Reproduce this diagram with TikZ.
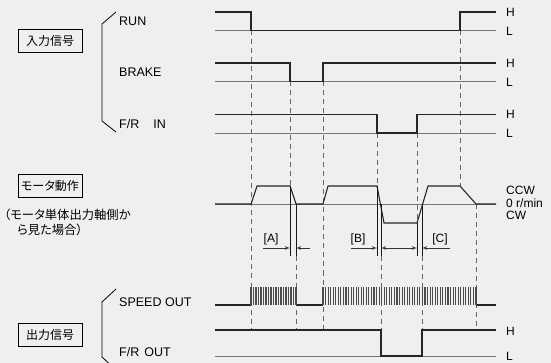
\documentclass[tikz,border=0pt]{standalone}
\usepackage{fontspec}
\setmainfont{Liberation Sans}
\newfontfamily\jpfont[RawFeature=+palt]{Noto Sans CJK JP}
\usepackage{tikz}
\usetikzlibrary{arrows,positioning}
\definecolor{bggray}{RGB}{238,239,238}
\definecolor{refgray}{RGB}{120,120,120}
\tikzset{
    sig/.style={draw, black!85, line width=1.1pt},
    ref/.style={draw, refgray, line width=0.7pt},
    guide/.style={draw, black!60, line width=0.9pt, dash pattern=on 5pt off 4pt},
    marker/.style={draw, black!90, line width=0.8pt},
    pulse/.style={draw, black!70, line width=1.1pt},
    dimline/.style={draw, black!80, line width=0.7pt, -latex'},
    box/.style={rectangle, draw, line width=0.8pt, minimum width=64pt, minimum height=23pt, inner sep=0pt, font=\jpfont\fontsize{12}{14}\selectfont},
    note/.style={anchor=west, inner sep=0pt, font=\jpfont\fontsize{12.3}{14}\selectfont},
    lbl/.style={anchor=base west, inner sep=0pt, font=\fontsize{12.5}{14}\selectfont},
    lvl/.style={anchor=base west, inner sep=0pt, font=\fontsize{12}{14}\selectfont}
}

\begin{document}
\begin{tikzpicture}[x=1pt, y=-1pt]
    \useasboundingbox (0,0) rectangle (551,363);
    \fill[bggray] (0,0) rectangle (551,363);

    % left side
    \node[box] (inbox) at (50,40.5) {入力信号};
    \node[box] (motbox) at (50,185.5) {モータ動作};
    \node[box] (outbox) at (50,335) {出力信号};
    \node[note] (view1) at (4,215) {（モータ単体出力軸側か};
    \node[note] (view2) at (17,230) {ら見た場合）};

    \draw[line width=0.8pt] (116,12) -- (102,24) -- (102,121) -- (116,132);
    \draw[line width=0.8pt] (116,289) -- (102,302) -- (102,357) -- (108.5,363);

    \node[lbl] (run) at (119,25.7) {RUN};
    \node[lbl] (brake) at (119,76.7) {BRAKE};
    \node[lbl] (frin) at (119,129) {F/R\hspace{14pt}IN};
    \node[lbl] (speed) at (119,306.7) {SPEED OUT};
    \node[lbl] (frout) at (119,356.7) {F/R\hspace{5pt}OUT};

    % levels
    \node[lvl] (runh) at (506,16.7) {H};
    \node[lvl] (runl) at (506,36) {L};
    \node[lvl] (brkh) at (506,67.7) {H};
    \node[lvl] (brkl) at (506,86.5) {L};
    \node[lvl] (frinh) at (506,119) {H};
    \node[lvl] (frinl) at (506,138) {L};
    \node[lvl] (ccw) at (506,195) {CCW};
    \node[lvl] (zero) at (506,207.7) {0 r/min};
    \node[lvl] (cw) at (506,219.7) {CW};
    \node[lvl] (frouth) at (506,335) {H};
    \node[lvl] (froutl) at (506,360.5) {L};

    % reference lines
    \draw[ref] (215,30.5) -- (496,30.5);
    \draw[ref] (215,81.5) -- (496,81.5);
    \draw[ref] (215,133) -- (496,133);
    \draw[ref] (215,204) -- (496,204);
    \draw[ref] (215,356) -- (496,356);

    % guides
    \draw[guide] (251,30.5) -- (251,330);
    \draw[guide] (290,81.5) -- (290,186);
    \draw[guide] (323,81.5) -- (323,330);
    \draw[guide] (377,133) -- (377,186);
    \draw[guide] (417,133) -- (417,223);
    \draw[guide] (460,30.5) -- (460,186);
    \draw[guide] (296,256) -- (296,330);
    \draw[guide] (381,256) -- (381,330);
    \draw[guide] (422,256) -- (422,330);
    \draw[guide] (476,204) -- (476,330);

    % signals
    \draw[sig] (215,12) -- (251,12) -- (251,30.5) -- (460,30.5) -- (460,12) -- (496,12);
    \draw[sig] (215,63) -- (290,63) -- (290,81.5) -- (323,81.5) -- (323,63) -- (496,63);
    \draw[sig] (215,114.5) -- (377,114.5) -- (377,133) -- (417,133) -- (417,114.5) -- (496,114.5);
    \draw[sig] (215,204) -- (251,204) -- (257,186) -- (290,186) -- (296,204) -- (323,204)
        -- (328,186) -- (377,186) -- (384,223) -- (417,223) -- (428,186) -- (460,186)
        -- (476,204) -- (496,204);
    \draw[sig] (215,305) -- (251,305);
    \draw[sig] (296,305) -- (323,305);
    \draw[sig] (476,305) -- (496,305);
    \foreach \x in {251,253.5,...,296}
        \draw[pulse] (\x,287) -- (\x,305);
    \foreach \x in {323,325.55,...,476.5}
        \draw[pulse] (\x,287) -- (\x,305);
    \draw[sig] (215,330) -- (381,330) -- (381,356) -- (422,356) -- (422,330) -- (496,330);

    % markers
    \draw[marker] (290,186) -- (290,256);
    \draw[marker] (296,204) -- (296,256);
    \draw[marker] (377,186) -- (377,256);
    \draw[marker] (381,204) -- (381,256);
    \draw[marker] (417,223) -- (417,256);
    \draw[marker] (422,204) -- (422,256);

    \coordinate (a0) at (263,248);
    \coordinate (a1) at (290,248);
    \coordinate (a2) at (296,248);
    \coordinate (a3) at (310,248);
    \coordinate (b0) at (351,248);
    \coordinate (b1) at (377,248);
    \coordinate (b2) at (381,248);
    \coordinate (c1) at (417,248);
    \coordinate (c2) at (422,248);
    \coordinate (c3) at (450,248);
    \draw[dimline] (a0) -- (a1);
    \draw[dimline] (a3) -- (a2);
    \draw[dimline] (b0) -- (b1);
    \draw[dimline, latex'-latex'] (b2) -- (c1);
    \draw[dimline] (c3) -- (c2);

    \node[lvl, anchor=base] (tA) at (271,243) {[A]};
    \node[lvl, anchor=base] (tB) at (358,243) {[B]};
    \node[lvl, anchor=base] (tC) at (440,243) {[C]};
\end{tikzpicture}
\end{document}
